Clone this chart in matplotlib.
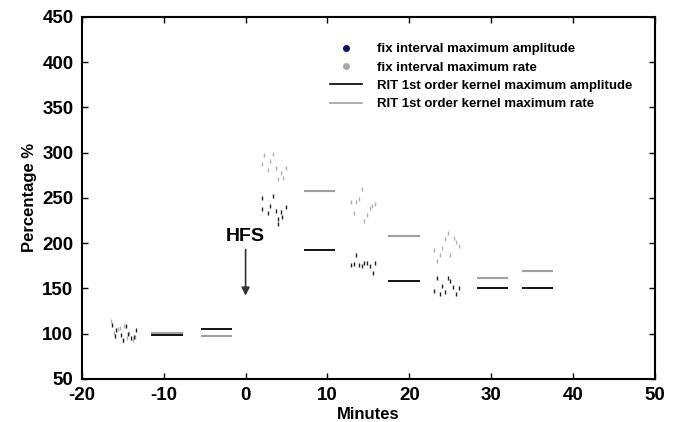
import matplotlib
matplotlib.use("Agg")
import matplotlib.pyplot as plt
from matplotlib.lines import Line2D

plt.rcParams['font.family'] = ['Liberation Sans', 'DejaVu Sans']
plt.rcParams['font.weight'] = 'bold'
plt.rcParams['axes.unicode_minus'] = False

# fix interval maximum amplitude (scatter)
amp_x = [-16.3, -15.8, -15.2, -14.6, -14.0, -13.4, -16.0, -15.0, -14.3, -13.6,
         2.0, 3.3, 2.0, 3.0, 2.7, 3.7, 4.3, 4.9, 4.0, 4.4, 4.0,
         13.5, 12.9, 13.2, 13.8, 14.2, 14.5, 14.8, 15.2, 15.8, 15.5,
         23.4, 24.7, 25.0, 24.0, 25.3, 26.0, 23.0, 23.7, 24.4, 25.7]
amp_y = [110, 104, 99, 108, 95, 104, 97, 93, 100, 96,
         250, 252, 238, 241, 233, 236, 234, 240, 227, 229, 221,
         187, 176, 177, 176, 175, 178, 178, 175, 178, 167,
         161, 161, 158, 153, 152, 150, 147, 144, 146, 144]
# fix interval maximum rate (scatter)
rate_x = [-16.4, -15.6, -14.8, -14.2, -13.5, -16.1, -15.3, -14.5, -13.8, -15.0,
          2.2, 3.3, 2.0, 3.0, 2.7, 3.7, 4.3, 4.9, 4.0, 4.6,
          14.2, 13.8, 13.5, 12.9, 15.4, 15.8, 15.2, 13.2, 14.8, 14.5,
          24.7, 24.4, 25.4, 25.7, 26.0, 24.0, 23.0, 23.7, 25.0, 23.4]
rate_y = [114, 105, 109, 101, 96, 101, 106, 95, 93, 92,
          297, 298, 288, 291, 281, 283, 278, 283, 271, 272,
          260, 249, 246, 245, 241, 243, 239, 233, 231, 225,
          211, 205, 206, 201, 197, 195, 192, 187, 187, 180]

# RIT 1st order kernel segments
seg_start = [-11.5, -5.4, 7.1, 17.4, 28.2, 33.7]
seg_end = [-7.7, -1.7, 10.9, 21.3, 32.0, 37.5]
rit_amp = [99, 105, 193, 158, 151, 151]
rit_rate = [101, 97, 258, 208, 162, 169]

fig = plt.figure(figsize=(6.76, 4.22), dpi=100)
ax = fig.add_axes([0.121, 0.102, 0.848, 0.858])

gray_pt = '#b0b0b0'
gray_ln = '#a0a0a0'

ax.plot(rate_x, rate_y, linestyle='none', marker='|', markersize=3,
        markeredgewidth=1, color=gray_pt)
ax.plot(amp_x, amp_y, linestyle='none', marker='|', markersize=3,
        markeredgewidth=1, color='#202020')

ax.hlines(rit_rate, seg_start, seg_end, colors=gray_ln, linewidth=1.5)
ax.hlines(rit_amp, seg_start, seg_end, colors='black', linewidth=1.3)

ax.annotate('', xy=(0, 142), xytext=(0, 193),
            arrowprops=dict(arrowstyle='-|>', color='#333333', lw=1.2,
                            mutation_scale=12, shrinkA=0, shrinkB=0))
ax.text(0, 198, 'HFS', ha='center', va='bottom', fontsize=14, fontweight='bold')

ax.set_xlim(-20, 50)
ax.set_ylim(50, 450)
ax.set_xticks([-20, -10, 0, 10, 20, 30, 40, 50])
ax.set_yticks([50, 100, 150, 200, 250, 300, 350, 400, 450])
ax.tick_params(direction='in', top=True, right=True, labelsize=13.5, width=1, length=4)
ax.tick_params(axis='x', pad=6)
ax.tick_params(axis='y', pad=6)
for lab in ax.get_xticklabels() + ax.get_yticklabels():
    lab.set_fontweight('bold')
for sp in ax.spines.values():
    sp.set_linewidth(1.5)

ax.set_xlabel('Minutes', fontsize=12, fontweight='bold', labelpad=2)
ax.set_ylabel('Percentage %', fontsize=12, fontweight='bold', labelpad=4)

handles = [
    Line2D([], [], linestyle='none', marker='o', markersize=4, color='#101060'),
    Line2D([], [], linestyle='none', marker='o', markersize=4, color='#a8a8a8'),
    Line2D([], [], color='black', linewidth=1.2),
    Line2D([], [], color=gray_ln, linewidth=1.2),
]
labels = ['fix interval maximum amplitude', 'fix interval maximum rate',
          'RIT 1st order kernel maximum amplitude', 'RIT 1st order kernel maximum rate']
leg = ax.legend(handles, labels, loc='upper left', bbox_to_anchor=(0.4236, 0.9426),
                frameon=False, fontsize=9.5, handlelength=2.4, handletextpad=1.2,
                labelspacing=0.47, borderaxespad=0)
for t in leg.get_texts():
    t.set_fontweight('bold')

fig.savefig('out.png', dpi=100)
